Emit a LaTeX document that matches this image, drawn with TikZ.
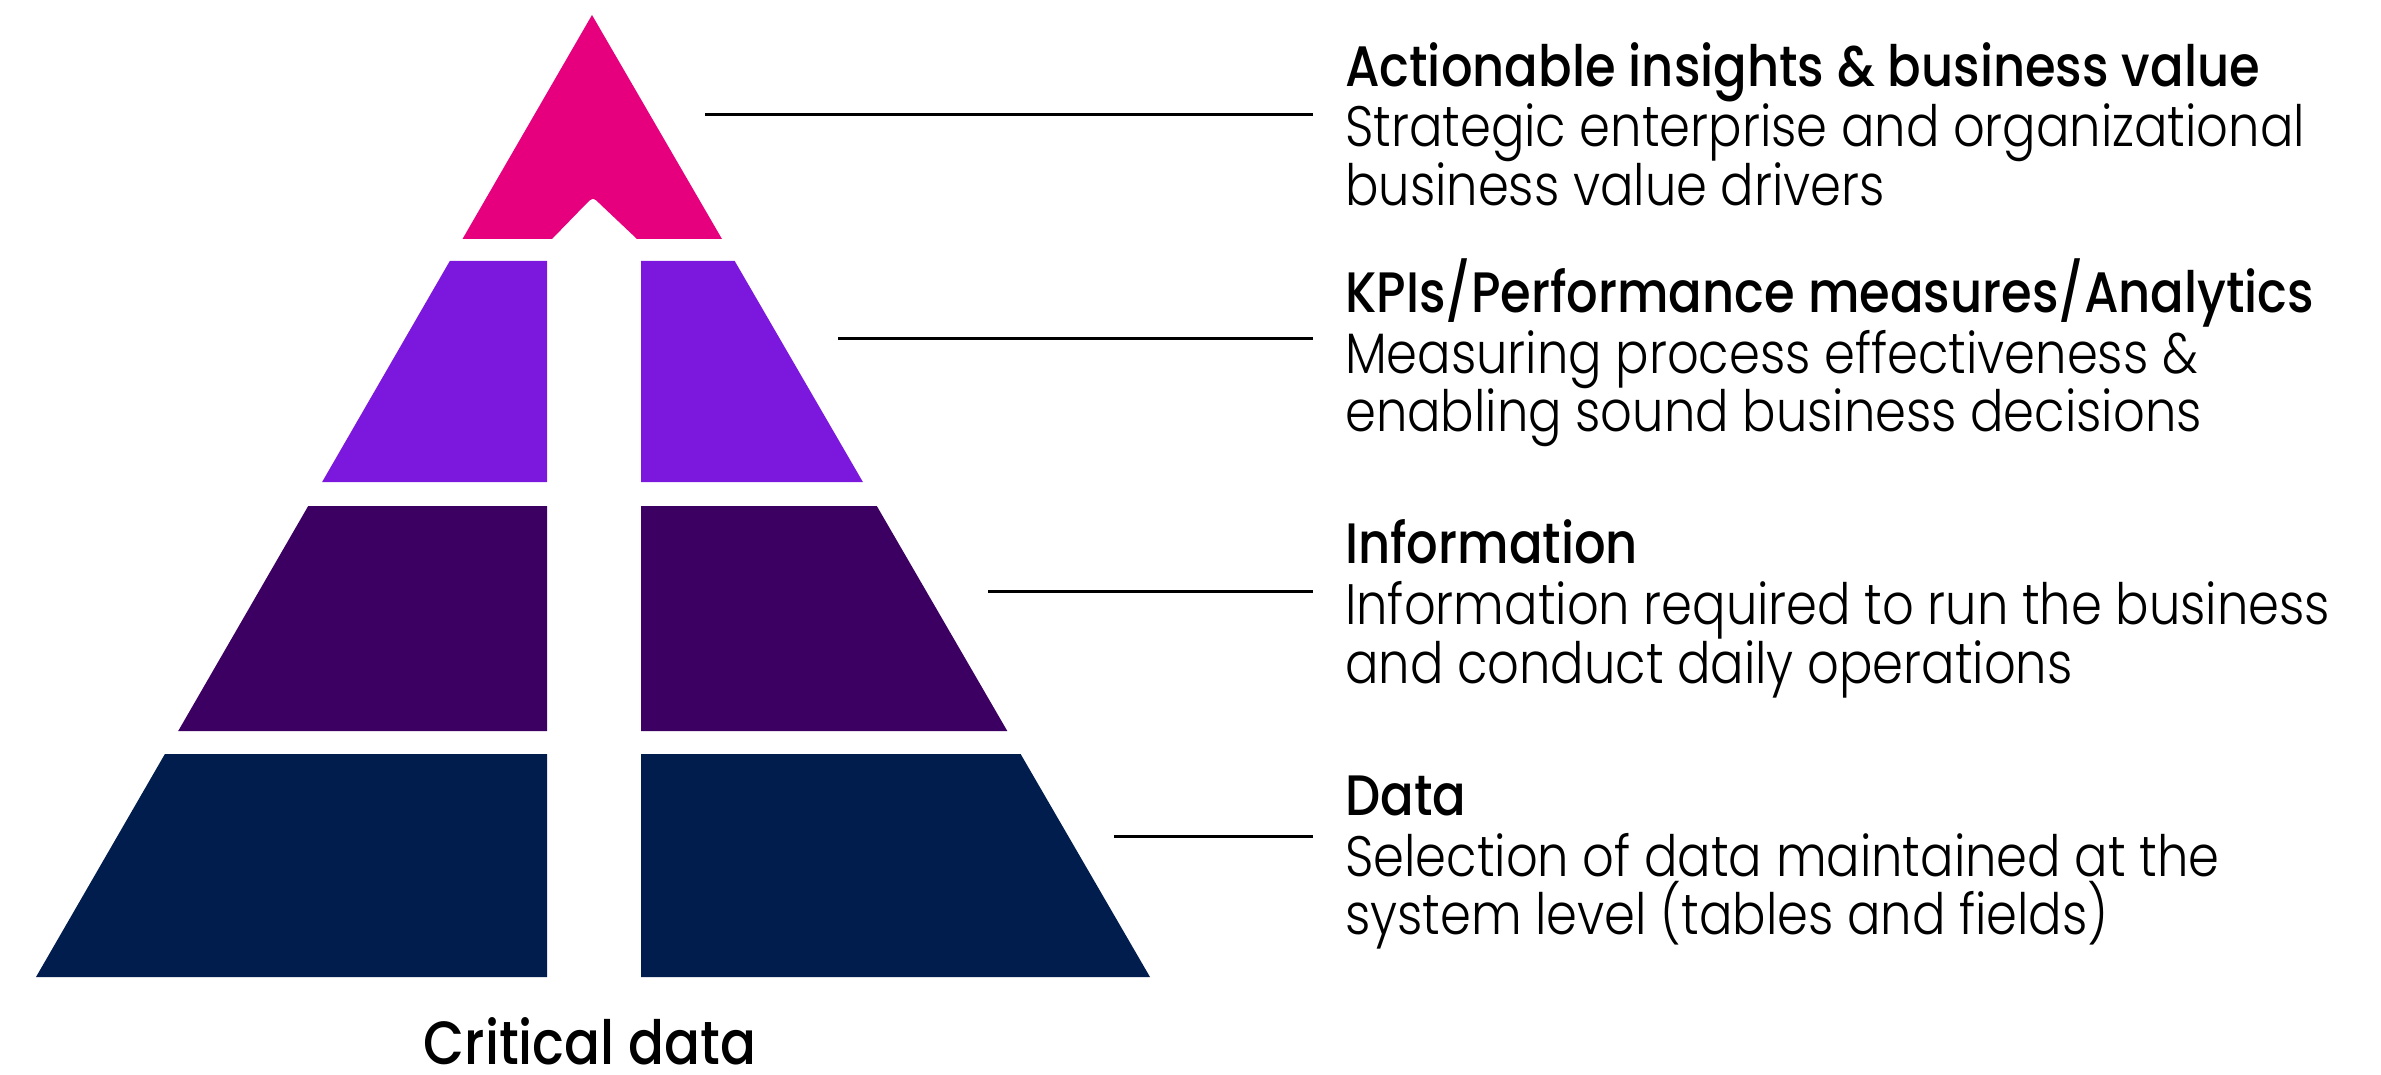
\documentclass[tikz,border=0pt]{standalone}
\usepackage{fontspec}
% Geometric sans faces: light for descriptions, medium for headings
\IfFontExistsTF{Poppins Light}
  {\newfontfamily\bodyfont{Poppins Light}[FakeStretch=0.87]}
  {\newfontfamily\bodyfont{Poppins}[FakeStretch=0.87]}
\IfFontExistsTF{Poppins Medium}
  {\newfontfamily\headfont{Poppins Medium}[FakeStretch=0.87]}
  {\newfontfamily\headfont{Poppins}[FakeStretch=0.87]}

\definecolor{tierpink}{HTML}{E6007E}
\definecolor{tierviolet}{HTML}{7C17DD}
\definecolor{tierplum}{HTML}{3B0062}
\definecolor{tiernavy}{HTML}{001D4E}

\begin{document}
\begin{tikzpicture}[x=1pt,y=-1pt,
  head/.style={inner sep=0pt, anchor=base west, font=\headfont\fontsize{57}{66}\selectfont},
  body/.style={inner sep=0pt, anchor=base west, font=\bodyfont\fontsize{57}{66}\selectfont},
  conn/.style={draw=black, line width=3pt}]
\useasboundingbox (0,0) rectangle (2381,1075);

% Top tier: triangle with an upward chevron cut into its base
\fill[tierpink] (462.5,239) -- (592,15) -- (722,239) -- (637,239) -- (600,204)
  .. controls (593,197) .. (586,204) -- (552,239) -- cycle;

% Lower tiers, each split by a central vertical channel
\fill[tierviolet] (449.8,261) -- (547,261) -- (547,482) -- (322.1,482) -- cycle;
\fill[tierviolet] (641,261) -- (734.7,261) -- (862.9,482) -- (641,482) -- cycle;

\fill[tierplum] (308.2,506) -- (547,506) -- (547,731) -- (178.2,731) -- cycle;
\fill[tierplum] (641,506) -- (876.8,506) -- (1007.3,731) -- (641,731) -- cycle;

\fill[tiernavy] (164.9,754) -- (547,754) -- (547,977) -- (36,977) -- cycle;
\fill[tiernavy] (641,754) -- (1020.6,754) -- (1150,977) -- (641,977) -- cycle;

% Leader lines
\coordinate (l1a) at (705,115);  \coordinate (l1b) at (1313,115);
\coordinate (l2a) at (838,338);  \coordinate (l2b) at (1313,338);
\coordinate (l3a) at (988,591);  \coordinate (l3b) at (1313,591);
\coordinate (l4a) at (1114,836); \coordinate (l4b) at (1313,836);
\draw[conn] (l1a) -- (l1b);
\draw[conn] (l2a) -- (l2b);
\draw[conn] (l3a) -- (l3b);
\draw[conn] (l4a) -- (l4b);

% Tier descriptions
\node[head] (t1)  at (1345,87)  {Actionable insights \& business value};
\node[body] (t1a) at (1345,147) {Strategic enterprise and organizational};
\node[body] (t1b) at (1345,206) {business value drivers};

\node[head] (t2)  at (1345,312) {KPIs/Performance measures/Analytics};
\node[body] (t2a) at (1345,373) {Measuring process effectiveness \&};
\node[body] (t2b) at (1345,431) {enabling sound business decisions};

\node[head] (t3)  at (1345,563) {Information};
\node[body] (t3a) at (1345,624) {Information required to run the business};
\node[body] (t3b) at (1345,683) {and conduct daily operations};

\node[head] (t4)  at (1345,815) {Data};
\node[body] (t4a) at (1345,876) {Selection of data maintained at the};
\node[body] (t4b) at (1345,934) {system level (tables and fields)};

\node[head, anchor=base, font=\headfont\fontsize{61}{70}\selectfont] (crit) at (590,1064) {Critical data};
\end{tikzpicture}
\end{document}
